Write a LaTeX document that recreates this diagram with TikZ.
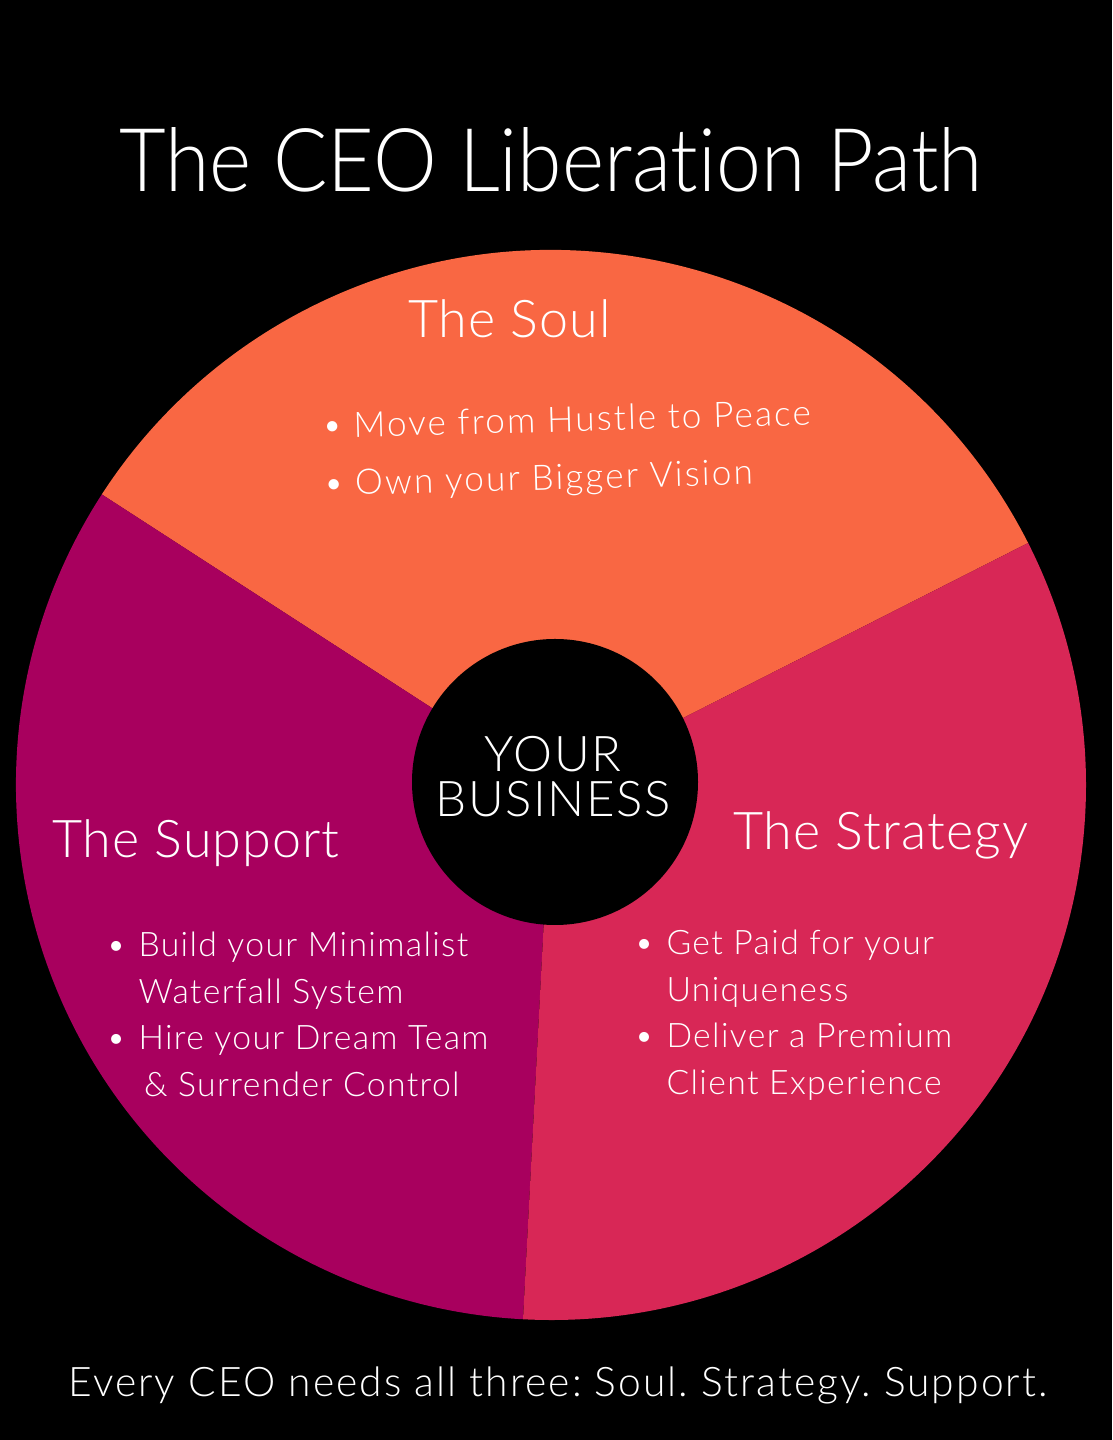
\documentclass[tikz,border=0pt]{standalone}
\usepackage{fontspec}
\setmainfont{Lato}[UprightFont=* Light, Ligatures=NoCommon]
\usepackage{tikz}
\usetikzlibrary{positioning}
\definecolor{soulorange}{HTML}{F96743}
\definecolor{supportplum}{HTML}{A8005E}
\definecolor{strategyred}{HTML}{D82756}
\frenchspacing

\begin{document}
\begin{tikzpicture}[
      x=0.025cm, y=0.025cm,
      every node/.style={text=white, inner sep=0pt},
      head/.style={font=\fontsize{37}{40}\selectfont\addfontfeatures{LetterSpace=2}, anchor=base west},
      blist/.style={font=\fontsize{24}{33}\selectfont\addfontfeatures{LetterSpace=4}, anchor=base west}
  ]

    % ---- Background ----
    \fill[black] (0,0) rectangle (1112,1440);
    \useasboundingbox (0,0) rectangle (1112,1440);

    % ---- Title ----
    \node[anchor=base] (title) at (551,1248)
          {\resizebox{614pt}{45.5pt}{The CEO Liberation Path}};

    % ---- Pie slices ----
    \coordinate (hub) at (551,655);
    \fill[soulorange] (hub) -- ++(26.9:535)
          arc[start angle=26.9, end angle=147.1, radius=535] -- cycle;
    \fill[supportplum] (hub) -- ++(147.1:535)
          arc[start angle=147.1, end angle=267, radius=535] -- cycle;
    \fill[strategyred] (hub) -- ++(267:535)
          arc[start angle=267, end angle=386.9, radius=535] -- cycle;

    % ---- Centre ----
    \node[circle, fill=black, minimum size=286*0.025cm] (core) at (555,658) {};
    \node[font=\fontsize{35}{32}\selectfont\addfontfeatures{LetterSpace=3}, align=center]
          (busy) at (553,663) {YOUR\\BUSINESS};

    % ---- The Soul ----
    \node[head] (soul) at (408,1102) {The Soul};
    \node[blist, rotate=1.5, font=\fontsize{25}{41}\selectfont\addfontfeatures{LetterSpace=6}]
          (soullist) at (322,1002) {%
      \begin{tabular}[t]{@{}l@{\hspace{8pt}}l@{}}
        \textbullet & Move from Hustle to Peace\\
        \textbullet & Own your Bigger Vision
      \end{tabular}};

    % ---- The Support ----
    \node[head] (support) at (52,582) {The Support};
    \node[blist] (supportlist) at (106,483) {%
      \begin{tabular}[t]{@{}l@{\hspace{9pt}}l@{}}
        \textbullet & Build your Minimalist\\
                    & Waterfall System\\
        \textbullet & Hire your Dream Team\\
                    & \,\& Surrender Control
      \end{tabular}};

    % ---- The Strategy ----
    \node[head] (strategy) at (733,590) {The Strategy};
    \node[blist] (strategylist) at (634,485) {%
      \begin{tabular}[t]{@{}l@{\hspace{9pt}}l@{}}
        \textbullet & Get Paid for your\\
                    & Uniqueness\\
        \textbullet & Deliver a Premium\\
                    & Client Experience
      \end{tabular}};

    % ---- Footer ----
    \node[anchor=base, font=\fontsize{29}{34}\selectfont\addfontfeatures{LetterSpace=5}]
          (footer) at (558,43)
          {Every CEO needs all three: Soul. Strategy. Support.};

  \end{tikzpicture}
\end{document}
